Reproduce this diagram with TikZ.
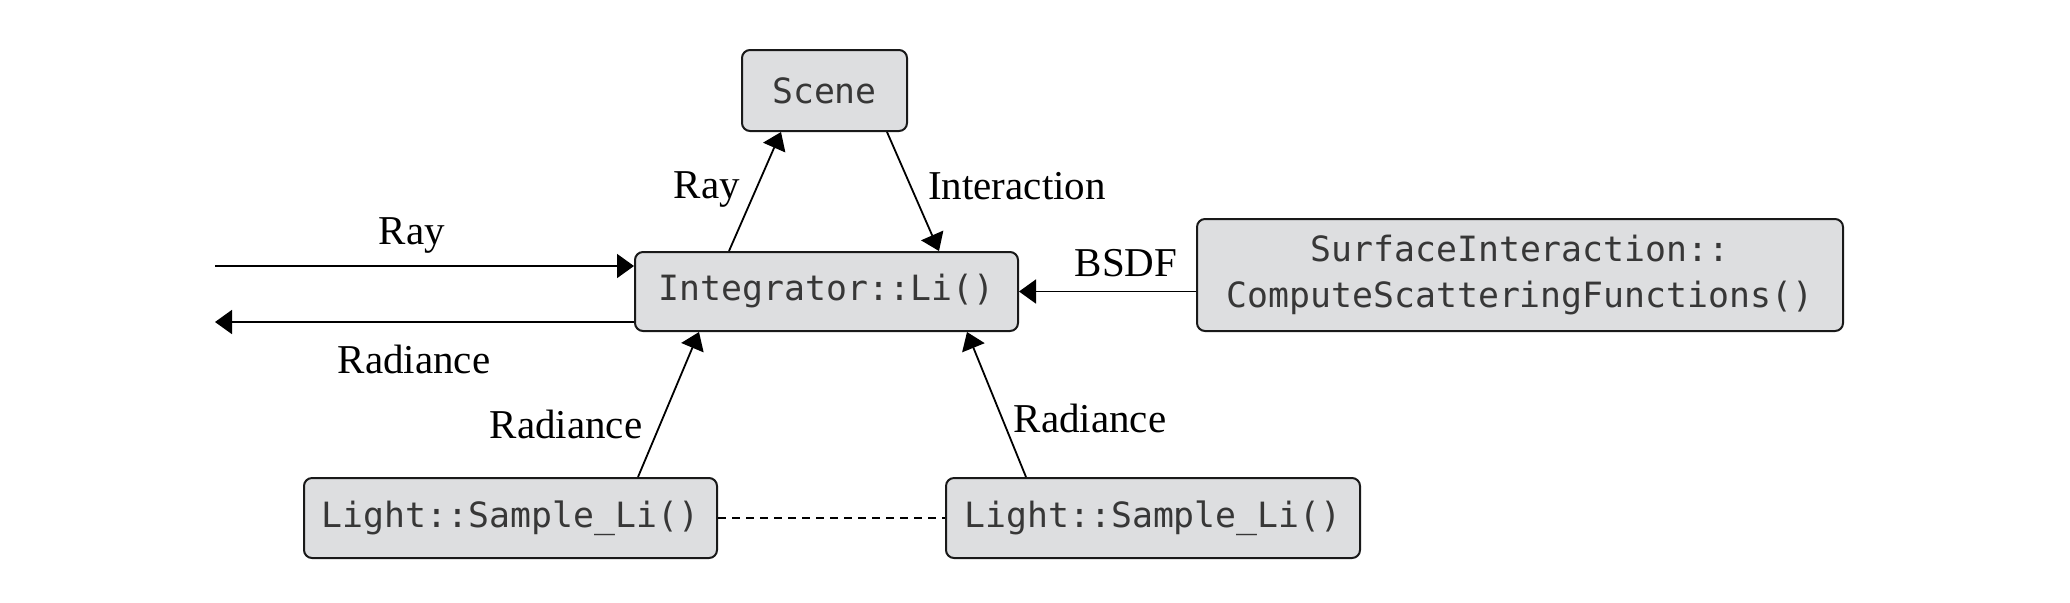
\documentclass[tikz,border=0pt]{standalone}
\usepackage{fontspec}
\setmainfont{Liberation Serif}
\setmonofont{DejaVu Sans Mono}
\usetikzlibrary{calc, arrows.meta}

\definecolor{boxgray}{RGB}{221,222,224}
\definecolor{codegray}{RGB}{55,55,55}

\tikzset{
  fnbox/.style={draw=black!90, fill=boxgray, line width=1pt, rounded corners=4pt,
    inner sep=0pt, align=center, text=codegray,
    font=\ttfamily\fontsize{17.4}{23}\selectfont},
  lbl/.style={inner sep=0pt, font=\fontsize{20.5}{24}\selectfont},
  flow/.style={line width=0.9pt, -{Triangle[length=8.5pt, width=12pt]}}
}

\begin{document}
\begin{tikzpicture}[x=0.5pt, y=-0.5pt]
\useasboundingbox (0,0) rectangle (2070,602);

% boxes
\node[fnbox, minimum width=82.5pt, minimum height=40.5pt] (scene) at (824.5,90.5) {Scene};
\node[fnbox, minimum width=191.5pt, minimum height=39.5pt] (integ) at (826.5,291.5) {Integrator::Li()};
\node[fnbox, minimum width=323pt, minimum height=56pt] (surf) at (1520,275) {SurfaceInteraction::\\ComputeScatteringFunctions()};
\node[fnbox, minimum width=206.5pt, minimum height=40pt] (lightA) at (510.5,518) {Light::Sample\_Li()};
\node[fnbox, minimum width=207pt, minimum height=40pt] (lightB) at (1153,518) {Light::Sample\_Li()};

% free ends on the left
\coordinate (rayin) at (215,266);
\coordinate (radout) at (215,322);

% in and out
\draw[flow] (rayin) -- (rayin -| integ.west);
\draw[flow] (radout -| integ.west) -- (radout);
\node[lbl] (rayinlbl) at (412,235) {Ray};
\node[lbl] (radoutlbl) at (414,359) {Radiance};

% scene
\draw[flow] ([xshift=47.5pt]integ.north west) -- ([xshift=20pt]scene.south west);
\draw[flow] ([xshift=73pt]scene.south west) -- ([xshift=152.5pt]integ.north west);
\node[lbl] (raylbl) at (707,189) {Ray};
\node[lbl] (isectlbl) at (1017,186) {Interaction};

% bsdf
\draw[flow] (surf.west |- integ.east) -- (integ.east);
\node[lbl] (bsdflbl) at (1126,263) {BSDF};

% lights
\draw[flow] ([xshift=167.5pt]lightA.north west) -- ([xshift=32.5pt]integ.south west);
\draw[flow] ([xshift=40.5pt]lightB.north west) -- ([xshift=166.5pt]integ.south west);
\node[lbl] (radAlbl) at (566,424) {Radiance};
\node[lbl] (radBlbl) at (1090,418) {Radiance};
\draw[line width=0.9pt, dash pattern=on 4pt off 3pt] (lightA.east) -- (lightB.west);

\end{tikzpicture}
\end{document}
